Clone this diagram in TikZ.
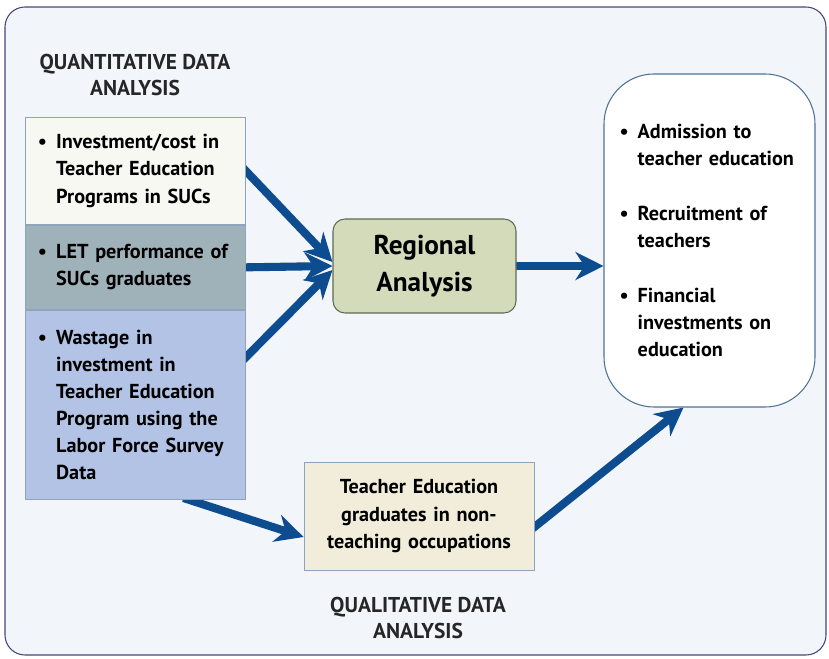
\documentclass[tikz,border=0pt]{standalone}
\usepackage{fontspec}
\setmainfont{PT Sans}
\usetikzlibrary{positioning, arrows.meta, backgrounds, calc}
\definecolor{cFrame}{HTML}{F2F6FB}
\definecolor{cFrameLine}{HTML}{46457A}
\definecolor{cInvest}{HTML}{F6F8F1}
\definecolor{cLet}{HTML}{9FB1B9}
\definecolor{cWaste}{HTML}{B3C3E5}
\definecolor{cBoxLine}{HTML}{8EA4BC}
\definecolor{cRegion}{HTML}{D3DBBB}
\definecolor{cRegionLine}{HTML}{5D6B52}
\definecolor{cOutLine}{HTML}{4F7196}
\definecolor{cNonTeach}{HTML}{F1EDDA}
\definecolor{cArrow}{HTML}{0D4C8F}

\newcommand{\bulletmark}{\textbullet\hspace{0.45em}}
\newcommand{\bulletskip}{\hphantom{\bulletmark}}

\begin{document}
\begin{tikzpicture}[
  font=\bfseries\fontsize{11.5}{15.4}\selectfont,
  databox/.style={draw=cBoxLine, line width=0.5pt, align=left,
                  text width=3.9cm, inner xsep=0.25cm, inner ysep=0pt},
  regionbox/.style={rounded corners=0.24cm, fill=cRegion, draw=cRegionLine,
                    line width=0.6pt, align=center, minimum width=3.66cm,
                    minimum height=1.88cm,
                    font=\bfseries\fontsize{15.5}{21}\selectfont},
  outbox/.style={rounded corners=1cm, fill=white, draw=cOutLine,
                 line width=0.6pt, align=left, text width=3.6cm,
                 inner xsep=0.31cm, minimum height=6.66cm},
  heading/.style={align=center, text=black!85,
                  font=\bfseries\fontsize{12.2}{14.8}\selectfont},
  flowarr/.style={-{Stealth[length=5.6mm, width=5.6mm, inset=1.8mm]},
                  draw=cArrow, line width=4.6pt, shorten <=-3pt},
]
\useasboundingbox (0,0) rectangle (16.58,13.16);

% ---- Quantitative inputs ----------------------------------------------
\node[heading] (quanthead) at (2.7,11.66) {QUANTITATIVE DATA\\ANALYSIS};

\node[databox, fill=cInvest, minimum height=2.14cm, anchor=north west]
  (invest) at (0.5,10.82)
  {\bulletmark Investment/cost in\\
   \bulletskip Teacher Education\\
   \bulletskip Programs in SUCs};

\node[databox, fill=cLet, minimum height=1.68cm, below=0pt of invest] (letperf)
  {\bulletmark LET performance of\\
   \bulletskip SUCs graduates};

\node[databox, fill=cWaste, minimum height=3.78cm, below=0pt of letperf] (wastage)
  {\bulletmark Wastage in\\
   \bulletskip investment in\\
   \bulletskip Teacher Education\\
   \bulletskip Program using the\\
   \bulletskip Labor Force Survey\\
   \bulletskip Data};

% ---- Analysis and outcomes --------------------------------------------
\node[regionbox] (regional) at (8.49,7.84) {Regional\\Analysis};

\node[outbox] (outcomes) at (14.19,8.35)
  {\bulletmark Admission to\\
   \bulletskip teacher education\\[15.9pt]
   \bulletmark Recruitment of\\
   \bulletskip teachers\\[15.9pt]
   \bulletmark Financial\\
   \bulletskip investments on\\
   \bulletskip education};

% ---- Qualitative input ------------------------------------------------
\node[databox, fill=cNonTeach, align=center, text width=4.1cm,
      minimum height=2.16cm] (nonteach) at (8.38,2.84)
  {Teacher Education\\graduates in non-\\teaching occupations};

\node[heading] (qualhead) at (8.36,0.8) {QUALITATIVE DATA\\ANALYSIS};

\begin{scope}[on background layer]
  \path[fill=cFrame, draw=cFrameLine, line width=0.6pt, rounded corners=0.4cm]
    (0.1,0.06) rectangle (16.52,13.02);
  % three data streams into the regional analysis
  \draw[flowarr] (invest.east) -- ($(regional.west)+(0,0.08)$);
  \draw[flowarr] (letperf.east) -- (regional.west);
  \draw[flowarr] ($(wastage.north east)!0.25!(wastage.south east)$)
    -- ($(regional.west)+(0,-0.08)$);
  \draw[flowarr] (regional.east) -- (regional.east -| outcomes.west);
  % qualitative branch
  \draw[flowarr] ($(wastage.south west)!0.74!(wastage.south east)$)
    -- ($(nonteach.west)+(0,-0.42)$);
  \draw[flowarr] ($(nonteach.east)+(0,-0.22)$)
    -- ($(outcomes.south)+(-0.52,0)$);
\end{scope}

\end{tikzpicture}
\end{document}
